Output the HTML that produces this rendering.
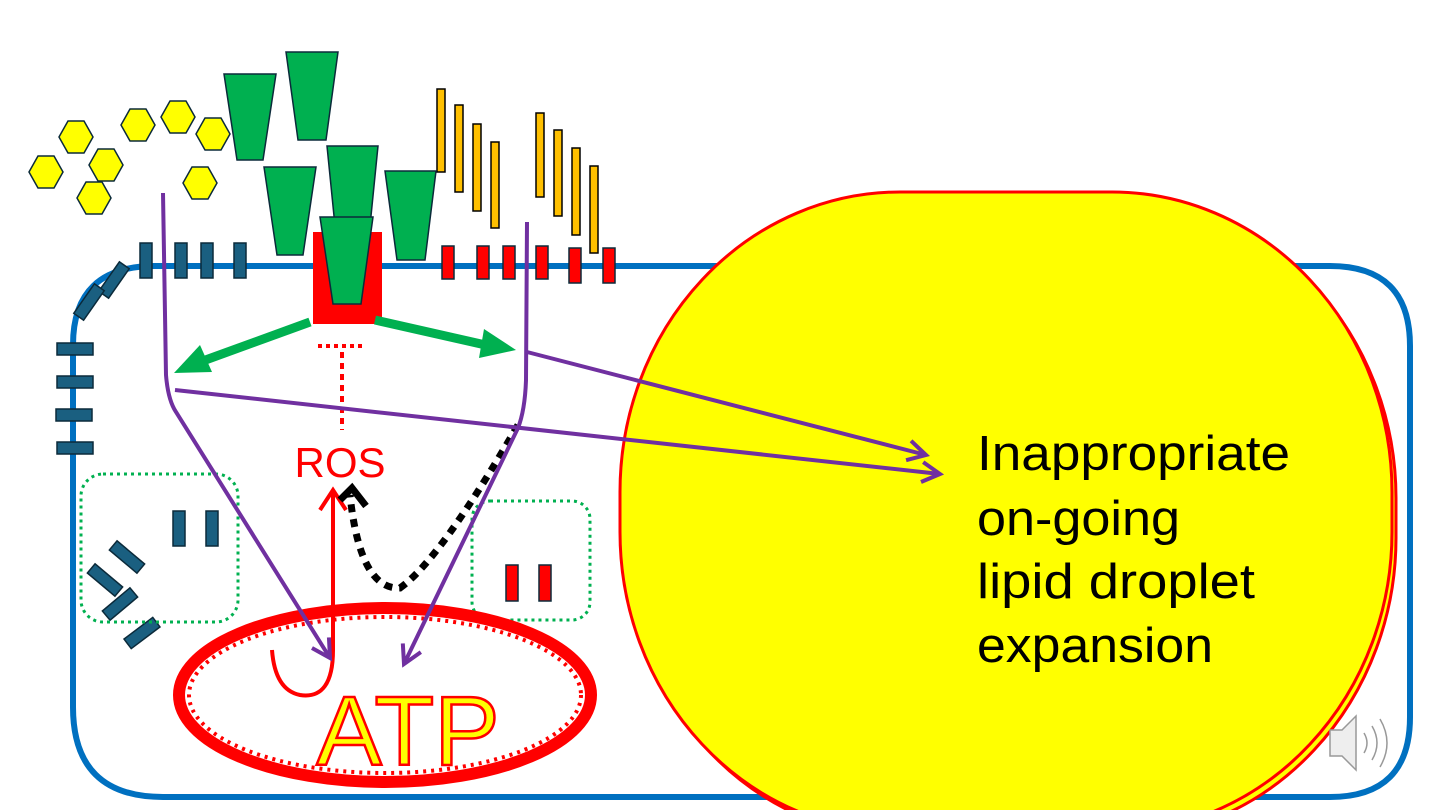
<!DOCTYPE html>
<html><head><meta charset="utf-8"><style>html,body{margin:0;padding:0;background:#fff}svg{display:block}</style></head>
<body>
<svg width="1440" height="810" viewBox="0 0 1440 810" xmlns="http://www.w3.org/2000/svg">
<defs>
<marker id="pa2" markerWidth="24" markerHeight="24" refX="20" refY="12" orient="auto" markerUnits="userSpaceOnUse"><path d="M2,2 L20,12 L2,22" fill="none" stroke="#7030A0" stroke-width="4"/></marker>
</defs>
<!-- cell -->
<path d="M155,266 L1330,266 Q1410,266 1410,346 L1410,717 Q1410,797 1330,797 L163,797 Q73,797 73,707 L73,345 Q73,266 155,266 Z" fill="none" stroke="#0070C0" stroke-width="6"/>
<!-- lipid droplet -->
<rect x="626" y="198" width="770" height="640" rx="280" ry="300" fill="#FFFF00" stroke="#FF0000" stroke-width="3"/>
<rect x="620" y="192" width="772" height="640" rx="280" ry="300" fill="#FFFF00" stroke="#FF0000" stroke-width="3"/>
<g font-family="Liberation Sans, sans-serif" font-size="49" fill="#000" lengthAdjust="spacingAndGlyphs">
<text x="977" y="470" textLength="313" lengthAdjust="spacingAndGlyphs">Inappropriate</text>
<text x="977" y="535" textLength="203" lengthAdjust="spacingAndGlyphs">on-going</text>
<text x="977" y="598" textLength="278" lengthAdjust="spacingAndGlyphs">lipid droplet</text>
<text x="977" y="662" textLength="236" lengthAdjust="spacingAndGlyphs">expansion</text>
</g>
<!-- hexagons -->
<g fill="#FFFF00" stroke="#0B2A3A" stroke-width="1.5">
<g transform="translate(46,172)"><polygon id="hx" points="-17,0 -8,-16 8,-16 17,0 8,16 -8,16"/></g>
<use href="#hx" x="76" y="137"/>
<use href="#hx" x="106" y="165"/>
<use href="#hx" x="94" y="198"/>
<use href="#hx" x="138" y="125"/>
<use href="#hx" x="178" y="117"/>
<use href="#hx" x="213" y="134"/>
<use href="#hx" x="200" y="183"/>
</g>
<!-- orange bars -->
<g fill="#FFC000" stroke="#000" stroke-width="1.5">
<rect x="437" y="89" width="8" height="83"/><rect x="455" y="105" width="8" height="87"/>
<rect x="473" y="124" width="8" height="87"/><rect x="491" y="142" width="8" height="86"/>
<rect x="536" y="113" width="8" height="84"/><rect x="554" y="130" width="8" height="86"/>
<rect x="572" y="148" width="8" height="87"/><rect x="590" y="166" width="8" height="87"/>
</g>
<!-- membrane bars -->
<g fill="#1A5F80" stroke="#0B2A3A" stroke-width="1.5">
<rect x="140" y="243" width="12" height="35"/><rect x="175" y="243" width="12" height="35"/>
<rect x="201" y="243" width="12" height="35"/><rect x="234" y="243" width="12" height="35"/>
<rect x="57" y="343" width="36" height="12"/><rect x="57" y="376" width="36" height="12"/>
<rect x="56" y="409" width="36" height="12"/><rect x="57" y="442" width="36" height="12"/>
<rect x="-18" y="-6" width="36" height="12" transform="translate(114,280) rotate(-55)"/>
<rect x="-18" y="-6" width="36" height="12" transform="translate(89,302) rotate(-55)"/>
<rect x="173" y="511" width="12" height="35"/><rect x="206" y="511" width="12" height="35"/>
<rect x="-18" y="-6" width="36" height="12" transform="translate(127,557) rotate(40)"/>
<rect x="-18" y="-6" width="36" height="12" transform="translate(105,580) rotate(40)"/>
<rect x="-18" y="-6" width="36" height="12" transform="translate(120,604) rotate(-40)"/>
<rect x="-18" y="-6" width="36" height="12" transform="translate(142,633) rotate(-37)"/>
</g>
<g fill="#FF0000" stroke="#0B2A3A" stroke-width="1.5">
<rect x="442" y="246" width="12" height="33"/><rect x="477" y="246" width="12" height="33"/>
<rect x="503" y="246" width="12" height="33"/><rect x="536" y="246" width="12" height="33"/>
<rect x="569" y="248" width="12" height="35"/><rect x="603" y="248" width="12" height="35"/>
<rect x="506" y="565" width="12" height="36"/><rect x="539" y="565" width="12" height="36"/>
</g>
<!-- green trapezoids -->
<g fill="#00B050" stroke="#0B2A3A" stroke-width="1.5">
<polygon points="224,74 276,74 263,160 237,160"/>
<polygon points="286,52 338,52 326,140 298,140"/>
<polygon points="264,167 316,167 303,255 277,255"/>
<polygon points="327,146 378,146 369,236 336,236"/>
<polygon points="385,171 436,171 425,260 397,260"/>
</g>
<path d="M313,232 L382,232 L382,324 L313,324 Z" fill="#FF0000"/>
<polygon points="320,217 373,217 361,304 333,304" fill="#00B050" stroke="#0B2A3A" stroke-width="1.5"/>
<!-- dotted boxes -->
<rect x="81" y="474" width="157" height="148" rx="22" fill="none" stroke="#00B050" stroke-width="3" stroke-dasharray="3,4"/>
<rect x="472" y="501" width="118" height="119" rx="18" fill="none" stroke="#00B050" stroke-width="3" stroke-dasharray="3,4"/>
<!-- green arrows -->
<g stroke="#00B050" stroke-width="9" fill="#00B050">
<line x1="310" y1="322" x2="200" y2="362"/>
<line x1="375" y1="320" x2="490" y2="346"/>
</g>
<polygon points="174,373 200,345 212,372" fill="#00B050"/>
<polygon points="516,350 484,329 479,358" fill="#00B050"/>
<!-- red dotted -->
<line x1="318" y1="346" x2="362" y2="346" stroke="#FF0000" stroke-width="4" stroke-dasharray="4,4"/>
<line x1="342" y1="352" x2="342" y2="430" stroke="#FF0000" stroke-width="4" stroke-dasharray="6,5"/>
<text x="340" y="477" font-family="Liberation Sans, sans-serif" font-size="42" fill="#FF0000" text-anchor="middle">ROS</text>
<!-- ATP ellipse -->
<ellipse cx="385" cy="695" rx="206" ry="87" fill="none" stroke="#FF0000" stroke-width="12"/>
<ellipse cx="385" cy="695" rx="196" ry="78" fill="none" stroke="#FF0000" stroke-width="4" stroke-dasharray="3,5"/>
<text x="408" y="765" font-family="Liberation Sans, sans-serif" font-size="98" fill="#FFFF00" stroke="#FF0000" stroke-width="2.5" text-anchor="middle">ATP</text>
<!-- red arrow and curl -->
<path d="M333,650 L333,492" stroke="#FF0000" stroke-width="4" fill="none"/>
<path d="M320,510 L333,490 L346,510" stroke="#FF0000" stroke-width="4" fill="none"/>
<path d="M333,650 Q333,700 300,695 Q275,690 272,650" stroke="#FF0000" stroke-width="4" fill="none"/>
<!-- black dotted -->
<path d="M518,425 Q440,560 400,588 Q360,590 350,495" stroke="#000" stroke-width="7" fill="none" stroke-dasharray="8,7"/>
<path d="M340,500 L352,488 L366,506" stroke="#000" stroke-width="7" fill="none"/>
<!-- purple lines -->
<g stroke="#7030A0" stroke-width="4" fill="none">
<path d="M163,193 L166,375 Q168,400 176,412 L330,658" marker-end="url(#pa2)"/>
<path d="M527,222 L526,380 Q525,410 518,428 L404,664" marker-end="url(#pa2)"/>
<path d="M175,390 L940,474" marker-end="url(#pa2)"/>
<path d="M527,352 L926,455" marker-end="url(#pa2)"/>
</g>
<!-- speaker -->
<g fill="#fff" stroke="#999" stroke-width="1.5">
<path d="M1330,730 L1342,730 L1356,716 L1356,770 L1342,756 L1330,756 Z" fill="#eee"/>
<path d="M1364,733 Q1370,743 1364,753" fill="none"/>
<path d="M1372,726 Q1382,743 1372,760" fill="none"/>
<path d="M1380,719 Q1394,743 1380,767" fill="none"/>
</g>
</svg>
</body></html>
